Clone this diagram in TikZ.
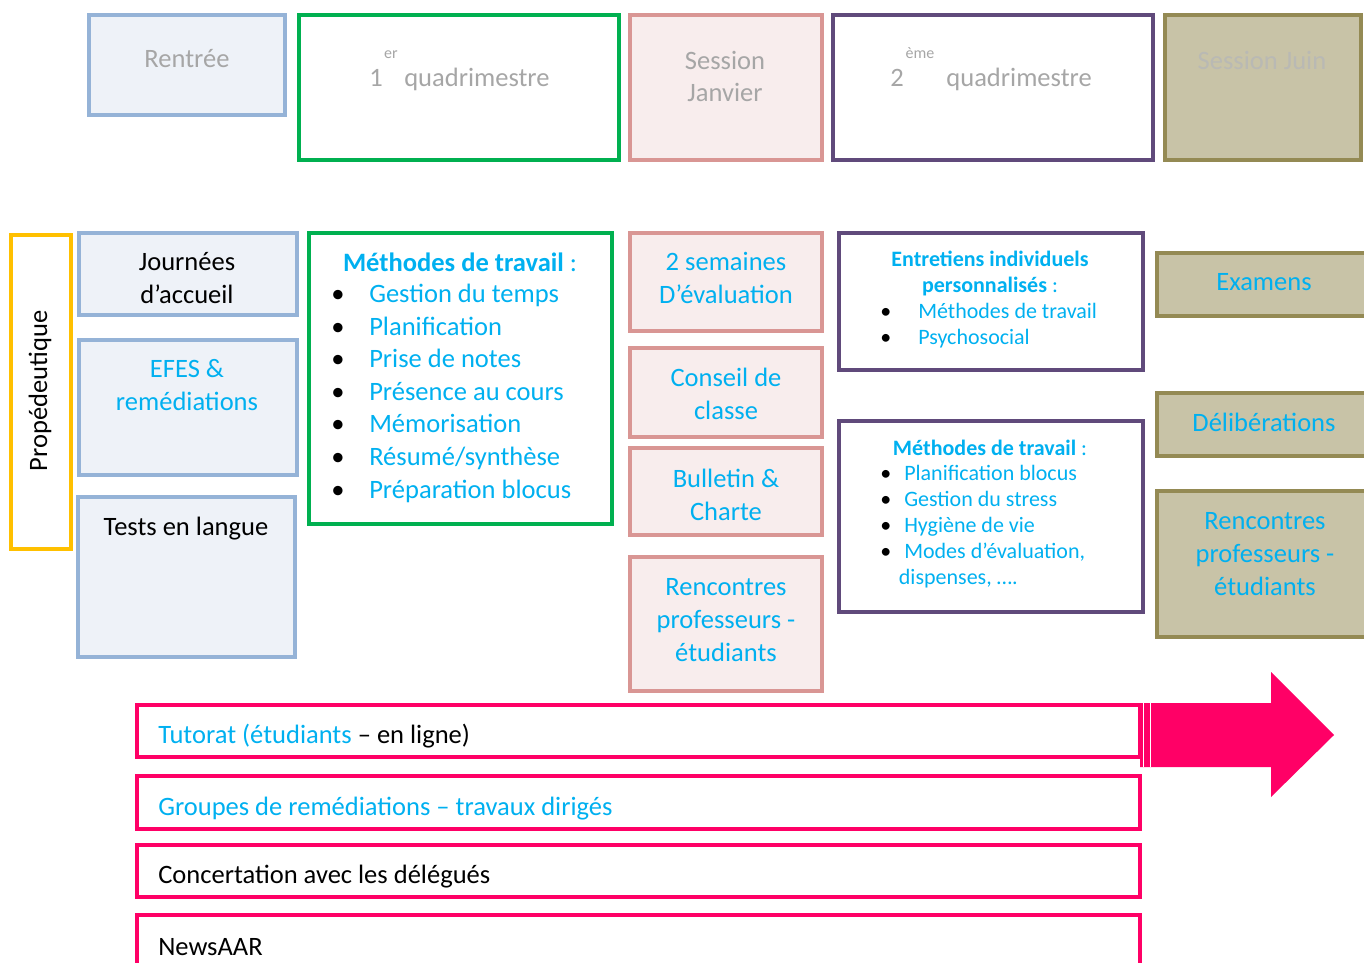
\documentclass[tikz,border=0pt]{standalone}
\usepackage{fontspec}
\setmainfont{Carlito}
\usetikzlibrary{fit}
\definecolor{blueline}{HTML}{95B3D7}
\definecolor{bluefill}{HTML}{EEF2F8}
\definecolor{greenline}{HTML}{00B050}
\definecolor{pinkline}{HTML}{D99694}
\definecolor{pinkfill}{HTML}{F8EDED}
\definecolor{purpleline}{HTML}{604A7B}
\definecolor{oliveline}{HTML}{948A54}
\definecolor{olivefill}{HTML}{C8C3A7}
\definecolor{orangeline}{HTML}{FFC000}
\definecolor{barline}{HTML}{FF0066}
\definecolor{txtcyan}{HTML}{00B0F0}
\definecolor{txtgray}{HTML}{A6A6A6}
\definecolor{txtlight}{HTML}{B9B9B4}
\newcommand{\lstitem}[2]{\makebox[#1][l]{\textbullet}\textcolor{txtcyan}{#2}}
\newcommand{\suptxt}[1]{\raisebox{21pt}{\fontsize{12}{14}\selectfont #1}}
\begin{document}
\begin{tikzpicture}
[x=0.75pt,y=-0.75pt,
  boxdecorate/.style={shape=rectangle,inner sep=0pt,line width=3pt},
  bluebox/.style={boxdecorate,draw=blueline,fill=bluefill},
  greenbox/.style={boxdecorate,draw=greenline,line width=3.4pt},
  pinkbox/.style={boxdecorate,draw=pinkline,fill=pinkfill},
  purplebox/.style={boxdecorate,draw=purpleline},
  olivebox/.style={boxdecorate,draw=oliveline,fill=olivefill},
  orangebox/.style={boxdecorate,draw=orangeline,line width=2.6pt},
  barbox/.style={boxdecorate,draw=barline,line width=3.4pt},
  txtdecorate/.style={inner sep=0pt,align=center,anchor=base,font=\fontsize{19.9}{24.4}\selectfont},
  smalldecorate/.style={inner sep=0pt,align=center,anchor=base,font=\fontsize{16.5}{19.5}\selectfont}]
\useasboundingbox (0,0) rectangle (1364,963);
%% boxes of the top row
\node[bluebox, fit={(89,15) (285,115)}] (rentree) {};
\node[greenbox, fit={(299,15) (619,160)}] (quadA) {};
\node[pinkbox, fit={(630,15) (822,160)}] (janvier) {};
\node[purplebox, fit={(833,15) (1153,160)}] (quadB) {};
\node[olivebox, fit={(1165,15) (1361,160)}] (juin) {};
%% boxes of the second row
\node[orangebox, fit={(11,235) (71,549)}] (propedeutique) {};
\foreach \nodename/\xa/\ya/\xb/\yb in {accueil/79/233/297/315, efes/79/340/297/475, tests/78/497/295/657} {
  \node[bluebox, fit={(\xa,\ya) (\xb,\yb)}] (\nodename) {};
}
\node[greenbox, fit={(309,233) (612,524)}] (methodes) {};
\foreach \nodename/\ya/\yb in {evaluation/233/331, conseil/348/437, bulletin/448/535, rencontresA/557/691} {
  \node[pinkbox, fit={(630,\ya) (822,\yb)}] (\nodename) {};
}
\foreach \nodename/\ya/\yb in {entretiens/233/370, methodesB/421/612} {
  \node[purplebox, fit={(839,\ya) (1143,\yb)}] (\nodename) {};
}
\foreach \nodename/\ya/\yb in {examens/253/316, deliberations/393/456, rencontresB/491/637} {
  \node[olivebox, fit={(1157,\ya) (1385,\yb)}] (\nodename) {};
}
%% arrow behind the first bar
\fill[barline] (1140,703) -- (1271,703) -- (1271,672) -- (1334,735) -- (1271,797)
  -- (1271,767) -- (1140,767) -- cycle;
\foreach \x in {1143.5,1150.5} {
  \draw[white,line width=1.3pt] (\x,703) -- (\x,767);
}
%% bars at the bottom
\foreach \nodename/\ya/\yb in {tutorat/705/757, groupes/776/829, concertation/845/897, news/915/985} {
  \node[barbox, fit={(137,\ya) (1140,\yb)}] (\nodename) {};
}
%% texts of the top row (base = last line)
\node[txtdecorate,text=txtgray] (rentreeT) at (187,68) {Rentrée};
\node[txtdecorate,anchor=base west,text=txtgray] (quadAT) at (369,87)
  {1\hspace{1pt}\suptxt{er}\hspace{5pt}quadrimestre};
\node[txtdecorate,text=txtgray] (janvierT) at (725,102) {Session\\Janvier};
\node[txtdecorate,anchor=base west,text=txtgray] (quadBT) at (890,87)
  {2\hspace{1.5pt}\suptxt{ème}\hspace{9pt}quadrimestre};
\node[txtdecorate,text=txtlight] (juinT) at (1262,70) {Session Juin};
%% texts of the second row
\node[txtdecorate,anchor=center,rotate=90] (propedeutiqueT) at (40,391) {Propédeutique};
\node[txtdecorate] (accueilT) at (187,303) {Journées\\d’accueil};
\node[txtdecorate,text=txtcyan] (efesT) at (187,410) {EFES \&\\remédiations};
\node[txtdecorate] (testsT) at (186,535) {Tests en langue};
\node[txtdecorate,text=txtcyan] (methodesT) at (460,272) {\textbf{Méthodes de travail} :};
\node[txtdecorate,anchor=base west,align=left] (methodesL) at (331,498)
  {\lstitem{28.5pt}{Gestion du temps}\\\lstitem{28.5pt}{Planification}\\
   \lstitem{28.5pt}{Prise de notes}\\\lstitem{28.5pt}{Présence au cours}\\
   \lstitem{28.5pt}{Mémorisation}\\\lstitem{28.5pt}{Résumé/synthèse}\\
   \lstitem{28.5pt}{Préparation blocus}};
\node[txtdecorate,text=txtcyan] (evaluationT) at (726,303) {2 semaines\\D’évaluation};
\node[txtdecorate,text=txtcyan] (conseilT) at (726,419) {Conseil de\\classe};
\node[txtdecorate,text=txtcyan] (bulletinT) at (726,520) {Bulletin \&\\Charte};
\node[txtdecorate,text=txtcyan] (rencontresAT) at (726,661) {Rencontres\\professeurs -\\étudiants};
\node[smalldecorate,text=txtcyan] (entretiensT) at (990,292)
  {\textbf{Entretiens individuels}\\\textbf{personnalisés} :};
\node[smalldecorate,anchor=base west,align=left] (entretiensL) at (880,344)
  {\lstitem{28.5pt}{Méthodes de travail}\\\lstitem{28.5pt}{Psychosocial}};
\node[smalldecorate,text=txtcyan] (methodesBT) at (990,455) {\textbf{Méthodes de travail} :};
\node[smalldecorate,anchor=base west,align=left] (methodesBL) at (880,584)
  {\lstitem{18pt}{Planification blocus}\\\lstitem{18pt}{Gestion du stress}\\
   \lstitem{18pt}{Hygiène de vie}\\\lstitem{18pt}{Modes d’évaluation,}\\
   \hspace*{14pt}\textcolor{txtcyan}{dispenses, ….}};
\node[txtdecorate,text=txtcyan] (examensT) at (1264,291) {Examens};
\node[txtdecorate,text=txtcyan] (deliberationsT) at (1264,431) {Délibérations};
\node[txtdecorate,text=txtcyan] (rencontresBT) at (1265,595) {Rencontres\\professeurs -\\étudiants};
%% texts of the bars
\node[txtdecorate,anchor=base west] (tutoratT) at (158,743)
  {\textcolor{txtcyan}{Tutorat (étudiants} – en ligne)};
\node[txtdecorate,anchor=base west,text=txtcyan] (groupesT) at (158,815)
  {Groupes de remédiations – travaux dirigés};
\node[txtdecorate,anchor=base west] (concertationT) at (158,883) {Concertation avec les délégués};
\node[txtdecorate,anchor=base west] (newsT) at (158,955) {NewsAAR};
\end{tikzpicture}
\end{document}
